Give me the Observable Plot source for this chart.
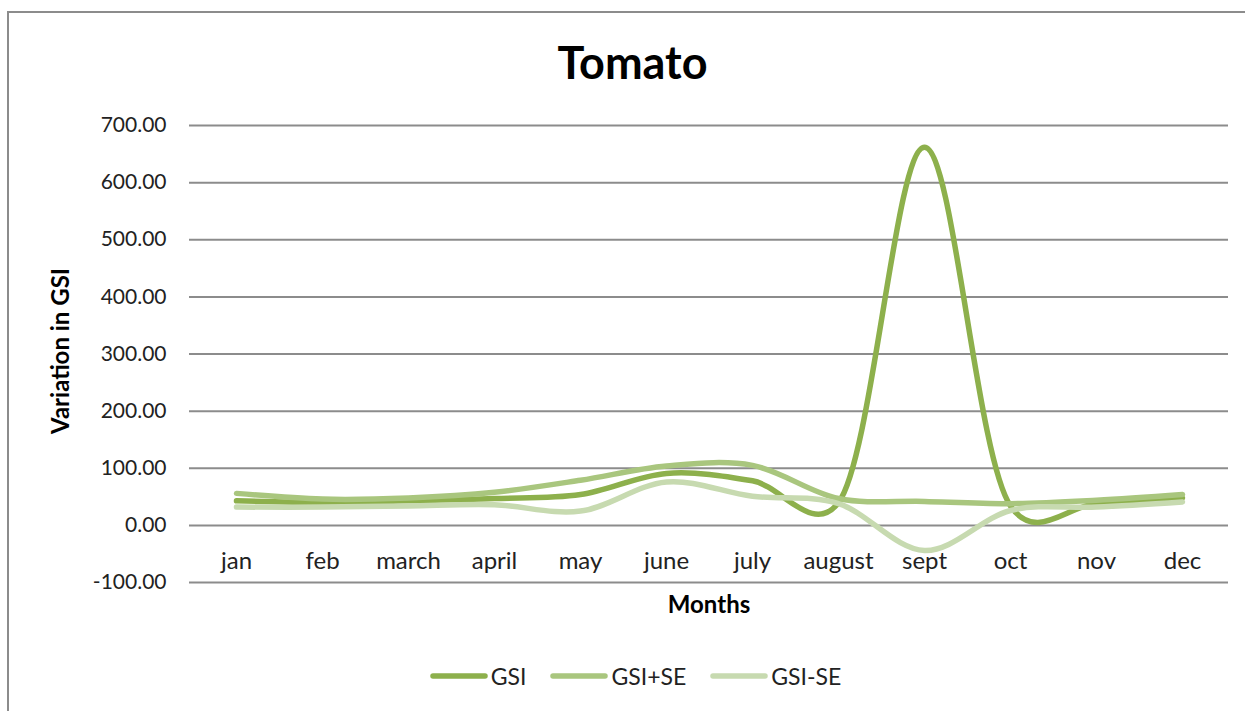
<!DOCTYPE html>
<html>
<head>
<meta charset="utf-8">
<script src="https://cdn.jsdelivr.net/npm/d3@7"></script>
<script src="https://cdn.jsdelivr.net/npm/@observablehq/plot@0.6"></script>
<style>
  html, body { margin: 0; padding: 0; background: #fff; overflow: hidden; }
  #wrap { position: relative; width: 1245px; height: 711px; overflow: hidden; font-family: Lato, "Open Sans", sans-serif; }
  #frame { position: absolute; left: 7px; top: 11px; width: 1400px; height: 900px; border-left: 2.5px solid #8c8c8c; border-top: 2.5px solid #8c8c8c; box-sizing: border-box; }
  #title { position: absolute; left: 0; width: 1265px; top: 35px; text-align: center; font-size: 45px; font-weight: 700; color: #000; }
  #chart { position: absolute; left: 0; top: 0; }
  #legend { position: absolute; top: 662px; left: 0; width: 1245px; display: flex; justify-content: center; gap: 24px; font-size: 23px; color: #222; padding-left: 26px; box-sizing: border-box; }
  .item { display: flex; align-items: center; gap: 3px; }
</style>
</head>
<body>
<div id="wrap">
  <div id="frame"></div>
  <div id="chart"></div>
  <div id="title">Tomato</div>
  <div id="legend"></div>
</div>
<script>
const months = ["jan","feb","march","april","may","june","july","august","sept","oct","nov","dec"];
const gsi        = [43, 40, 43, 47, 54, 91, 78, 40, 662, 34, 38, 48];
const gsiPlusSE  = [56, 46, 48, 58, 79, 104, 105, 47, 42, 38, 44, 54];
const gsiMinusSE = [32, 32, 34, 36, 25, 76, 51, 38, -44, 26, 32, 41];
const seriesNames = ["GSI", "GSI+SE", "GSI-SE"];
const seriesColors = ["#8db04c", "#a9c67e", "#c7dab0"];
const yTicks = [-100, 0, 100, 200, 300, 400, 500, 600, 700];
const xAxisCrossing = 0;

const seriesValues = [gsi, gsiPlusSE, gsiMinusSE];
const data = seriesNames.flatMap((s, i) => months.map((m, j) => ({series: s, month: m, value: seriesValues[i][j]})));

const curve = d3.curveCatmullRom.alpha(0.2);

const chart = Plot.plot({
  width: 1245,
  height: 640,
  marginLeft: 189,
  marginRight: 17,
  marginTop: 125,
  marginBottom: 58,
  style: {fontFamily: "Lato, 'Open Sans', sans-serif", background: "transparent"},
  x: {type: "point", domain: months, padding: 0.5},
  y: {domain: [-100, 700]},
  color: {domain: seriesNames, range: seriesColors},
  marks: [
    Plot.ruleY(yTicks, {stroke: "#8c8c8c", strokeWidth: 2}),
    Plot.axisY({ticks: yTicks, tickFormat: d => d.toFixed(2), tickSize: 0, tickPadding: 23, fontSize: 21, fill: "#222", label: null}),
    Plot.axisX({ticks: [], label: null, tickSize: 0}),
    Plot.text(months, {x: d => d, y: () => xAxisCrossing, dy: 36, fontSize: 24, fill: "#222"}),
    ...seriesNames.map(s => Plot.line(data.filter(d => d.series === s), {
      x: "month", y: "value", stroke: "series", strokeWidth: 5.5, curve, strokeLinecap: "round", strokeLinejoin: "round"
    })),
    Plot.text(["Variation in GSI"], {frameAnchor: "left", textAnchor: "middle", rotate: -90, dx: -128, dy: -3, fontSize: 24, fontWeight: 700, fill: "#000"}),
    Plot.text(["Months"], {frameAnchor: "bottom", dy: 30, fontSize: 24, fontWeight: 700, fill: "#000"})
  ]
});
document.getElementById("chart").appendChild(chart);

const legend = document.getElementById("legend");
seriesNames.forEach((s, i) => {
  const item = document.createElement("div");
  item.className = "item";
  item.innerHTML = `<svg width="58" height="10"><line x1="3" y1="5" x2="55" y2="5" stroke="${seriesColors[i]}" stroke-width="5.5" stroke-linecap="round"/></svg><span>${s}</span>`;
  legend.appendChild(item);
});
</script>
</body>
</html>
